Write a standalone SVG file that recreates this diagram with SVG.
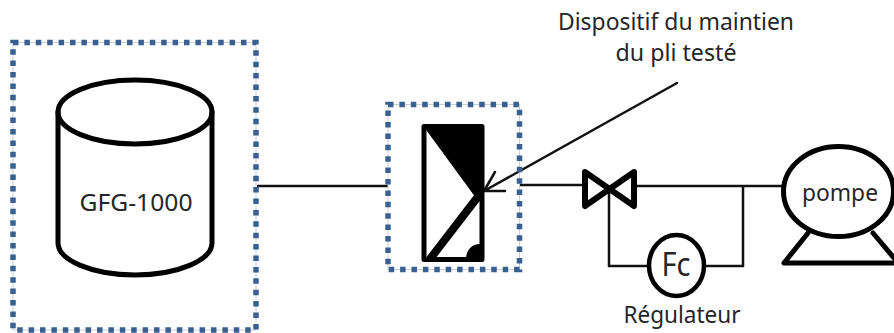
<svg xmlns="http://www.w3.org/2000/svg" width="894" height="333" viewBox="0 0 894 333">
<style>
.frame{fill:none;stroke:#c9d0d8;stroke-width:1}
.dots{fill:none;stroke:#3a6091;stroke-width:5.500;stroke-dasharray:5.500 5.900}
.sym{fill:none;stroke:#000;stroke-width:5;stroke-linejoin:round;stroke-linecap:round}
.wire{fill:none;stroke:#111;stroke-width:2.500}
text{font-family:"Noto Sans","Open Sans","Liberation Sans",sans-serif;fill:#262626;font-size:23px;text-anchor:middle}
</style>
<rect width="894" height="333" fill="#fff"/>
<g id="connectors">
<path class="wire" d="M257 186H388"/>
<path class="wire" d="M520 185H585M635 186H782"/>
<path class="wire" d="M609 186V266H650M705 266H743V186"/>
<path class="wire" d="M677 83L484 191M484 191L495 172M484 191L505 191" stroke-linecap="round" stroke-width="3"/>
</g>
<g id="box-reservoir">
<rect class="frame" x="13" y="42.500" width="243" height="287.500"/>
<rect class="dots" x="13" y="42.500" width="243" height="287.500"/>
</g>
<g id="reservoir">
<path class="sym" d="M58 112V243C58 260 92 275 135 275C178 275 212 260 212 243V112"/>
<ellipse class="sym" cx="135" cy="112" rx="77" ry="32"/>
<text x="136" y="211" textLength="113" lengthAdjust="spacingAndGlyphs">GFG-1000</text>
</g>
<g id="box-dispositif">
<rect class="frame" x="388" y="104.500" width="131.500" height="165"/>
<rect class="dots" x="388" y="104.500" width="131.500" height="165"/>
</g>
<g id="dispositif">
<rect class="sym" x="424" y="126.500" width="58" height="133"/>
<path d="M426 129H480V194L475 196Z" fill="#000" stroke="#000" stroke-width="1"/>
<path d="M430 259L480 194" fill="none" stroke="#000" stroke-width="8"/>
<path d="M466 259C466 250 472 244 480 244V259Z" fill="#000"/>
</g>
<g id="vanne">
<path class="sym" d="M585 172L634 206V172L585 206Z" style="stroke-width:6"/>
</g>
<g id="regulateur">
<ellipse cx="676.500" cy="265.500" rx="27.500" ry="30.500" fill="#fff" stroke="#000" stroke-width="4.500"/>
<text x="676" y="276" style="font-size:33px" textLength="29" lengthAdjust="spacingAndGlyphs">Fc</text>
<text x="682" y="323" textLength="117" lengthAdjust="spacingAndGlyphs">Régulateur</text>
</g>
<g id="pompe">
<path class="sym" d="M808 233L784 263H894M873 233L894 258"/>
<ellipse cx="838.500" cy="191.500" rx="55" ry="45" fill="#fff" stroke="#000" stroke-width="5"/>
<text x="840" y="201" textLength="76" lengthAdjust="spacingAndGlyphs">pompe</text>
</g>
<g id="etiquette">
<text x="676" y="30" textLength="236" lengthAdjust="spacingAndGlyphs">Dispositif du maintien</text>
<text x="676" y="61" textLength="121" lengthAdjust="spacingAndGlyphs">du pli testé</text>
</g>
</svg>
